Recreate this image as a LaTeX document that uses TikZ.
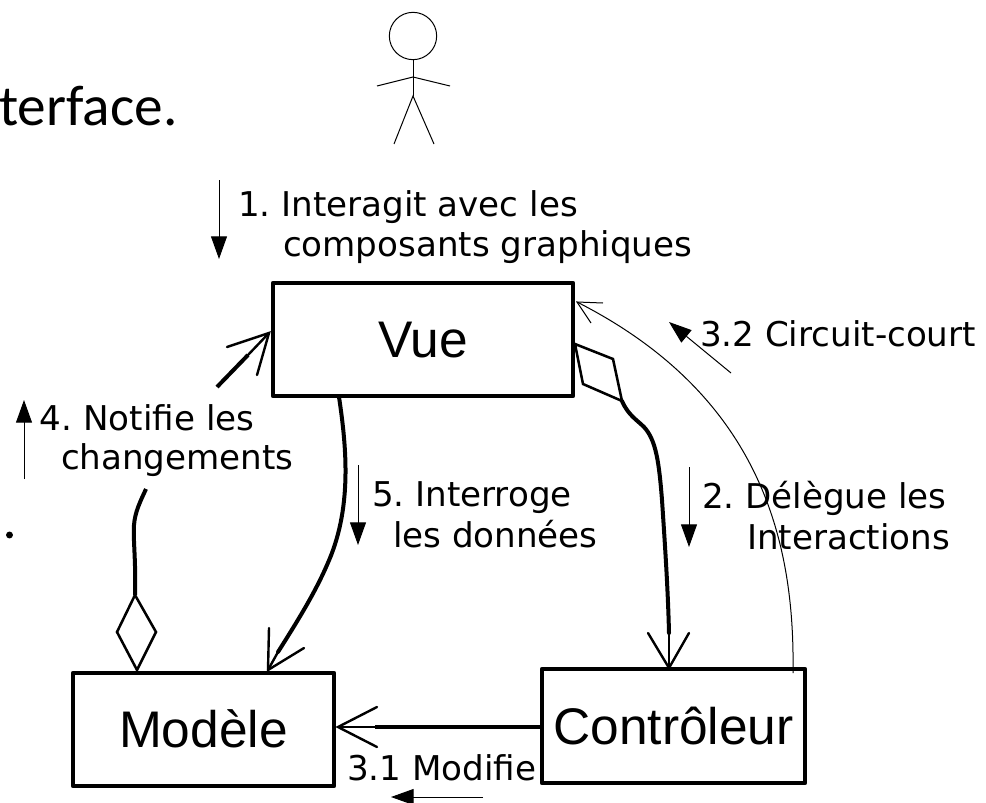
\documentclass[tikz,border=0pt]{standalone}
\usepackage{fontspec}
\setmainfont{DejaVu Sans}
\newfontfamily\boxfont{Liberation Sans}
\newfontfamily\titlefont{Carlito}
\usetikzlibrary{arrows.meta}
\frenchspacing
\tikzset{
  classbox/.style={draw,line width=3.4pt,line join=round,inner sep=0pt,outer sep=0pt,font=\boxfont\fontsize{38.6pt}{40pt}\selectfont,text height=27pt,text depth=0pt},
  lbl/.style={anchor=base west,inner sep=0pt,outer sep=0pt,font=\fontsize{25.6pt}{28pt}\selectfont},
  heavy/.style={line width=3pt,line cap=round},
  medium/.style={line width=1.9pt,line join=miter},
  barb/.style={line width=1.8pt,line cap=round},
  thin line/.style={line width=0.75pt},
  flow/.style={line width=0.75pt,-{Triangle[length=17pt,width=12pt]}},
}
\begin{document}
\begin{tikzpicture}[x=0.75pt,y=-0.75pt]
\useasboundingbox (0,0) rectangle (986,803);
\clip (0,0) rectangle (986,803);

% title fragment
\node[anchor=base west,inner sep=0pt,font=\titlefont\fontsize{43pt}{46pt}\selectfont] (title) at (-1,125) {terface.};
\node[circle,fill,inner sep=0pt,minimum size=5.2pt] (dot) at (9.5,535) {};

% actor
\node[circle,draw,thin line,inner sep=0pt,minimum size=35.5pt] (head) at (413,36) {};
\coordinate (shoulder) at (413,77);
\coordinate (hip) at (413,96);
\coordinate (handl) at (377,86);
\coordinate (handr) at (450,86);
\coordinate (footl) at (394,144);
\coordinate (footr) at (434,144);
\draw[thin line] (head.south) -- (hip);
\draw[thin line] (handl) -- (shoulder) -- (handr);
\draw[thin line] (footl) -- (hip) -- (footr);

% boxes
\node[classbox,minimum width=225pt,minimum height=84.75pt] (vue) at (423,339.5) {Vue};
\node[classbox,minimum width=195.75pt,minimum height=84.75pt] (modele) at (203.5,729.5) {Modèle};
\node[classbox,minimum width=197.25pt,minimum height=85.5pt] (ctrl) at (673.5,726) {Contrôleur};

% labels
\node[lbl] (l1a) at (238,216) {1. Interagit avec les};
\node[lbl] (l1b) at (283,256) {composants graphiques};
\node[lbl] (l32) at (700,346) {3.2 Circuit-court};
\node[lbl] (l2a) at (702,508) {2. Délègue les};
\node[lbl] (l2b) at (747,549) {Interactions};
\node[lbl] (l5a) at (372,506) {5. Interroge};
\node[lbl] (l5b) at (393,547) {les données};
\node[lbl] (l4a) at (40,430) {4. Notifie les};
\node[lbl] (l4b) at (61,469) {changements};
\node[lbl] (l31) at (347,780) {3.1 Modifie};

% small direction arrows
\coordinate (f1s) at (219,180); \coordinate (f1e) at (219,259);
\coordinate (f5s) at (358,465); \coordinate (f5e) at (358,545);
\coordinate (f2s) at (689,467); \coordinate (f2e) at (689,547);
\coordinate (f4s) at (24,479);  \coordinate (f4e) at (24,400);
\coordinate (f32s) at (731,373); \coordinate (f32e) at (669,322);
\coordinate (f31s) at (483,797); \coordinate (f31e) at (391,797);
\draw[flow] (f1s) -- (f1e);
\draw[flow] (f5s) -- (f5e);
\draw[flow] (f2s) -- (f2e);
\draw[flow] (f4s) -- (f4e);
\draw[flow] (f32s) -- (f32e);
\draw[flow] (f31s) -- (f31e);

% Vue -> Modele
\coordinate (a5s) at (339,397);
\coordinate (a5t) at (268,670);
\coordinate (a5b) at (278,652);
\draw[heavy] (a5s) .. controls (347,450) and (352,510) .. (327,565) .. controls (314,595) and (295,625) .. (a5b);
\draw[barb] (a5b) -- (a5t);
\draw[barb] (269,628) -- (a5t) -- (304,648);

% Vue <>-> Controleur
\coordinate (d1a) at (575,344);
\coordinate (d1b) at (613,359);
\coordinate (d1c) at (622,401);
\coordinate (d1d) at (583,384);
\coordinate (a2t) at (669,668);
\coordinate (a2b) at (669,633);
\draw[medium] (d1a) -- (d1b) -- (d1c) -- (d1d) -- cycle;
\draw[heavy] (d1c) .. controls (628,415) and (637,420) .. (644,427) .. controls (656,440) and (659,462) .. (662,500) .. controls (665,545) and (668,590) .. (a2b);
\draw[barb] (a2b) -- (a2t);
\draw[barb] (648,633) -- (a2t) -- (689,633);

% Controleur -> Modele
\coordinate (a3s) at (ctrl.west |- 0,727);
\coordinate (a3b) at (375,727);
\coordinate (a3t) at (338,727);
\draw[heavy,line cap=butt] (a3s) -- (a3b);
\draw[barb] (a3b) -- (a3t);
\draw[barb] (377,707) -- (a3t) -- (377,747);

% Circuit-court
\coordinate (a32s) at (793,673);
\coordinate (a32t) at (577,302);
\draw[thin line] (a32s) .. controls (795,540) and (760,395) .. (a32t);
\draw[thin line] (603,303) -- (a32t) -- (591,323);

% Modele <>-> Vue (interrupted by its label)
\coordinate (d2a) at (135,595);
\coordinate (d2b) at (156,632);
\coordinate (d2c) at (137,670);
\coordinate (d2d) at (117,632);
\coordinate (a4m) at (146,489);
\coordinate (a4n) at (217,387);
\coordinate (a4b) at (248,355);
\coordinate (a4t) at (269,333);
\draw[medium] (d2a) -- (d2b) -- (d2c) -- (d2d) -- cycle;
\draw[heavy,line cap=butt] (d2a) .. controls (136,560) and (133,540) .. (134,525) .. controls (135,512) and (140,502) .. (a4m);
\draw[heavy,line cap=butt] (a4n) -- (a4b);
\draw[barb] (a4b) -- (a4t);
\draw[barb] (227,347) -- (a4t) -- (257,375);
\end{tikzpicture}
\end{document}
